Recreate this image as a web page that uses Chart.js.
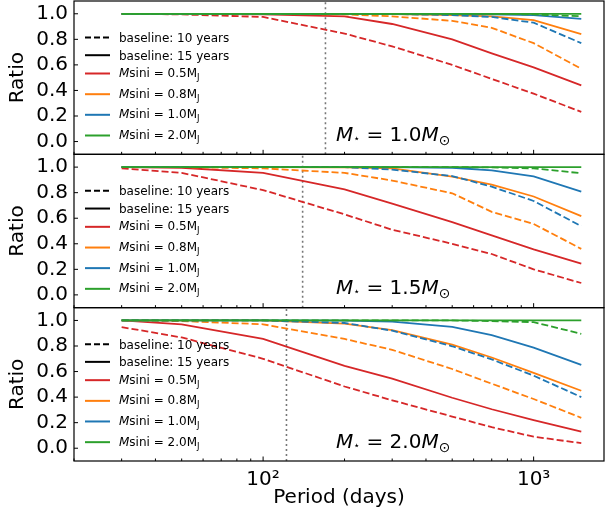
<!DOCTYPE html>
<html>
<head>
<meta charset="utf-8">
<script src="https://cdn.jsdelivr.net/npm/chart.js@4.4.0/dist/chart.umd.min.js"></script>
<style>
    body { margin: 0; background: #fff; }
    #wrap { width: 607px; height: 518px; }
</style>
</head>
<body>
<div id="wrap"><canvas id="myChart" width="607" height="518"></canvas></div>
<script>
// orbital periods (days) where the ratio was computed
const periods = [30, 50, 100, 200, 300, 500, 700, 1000, 1500];
const msiniLabels = ['0.5', '0.8', '1.0', '2.0'];
const starLabels = ['1.0', '1.5', '2.0'];
const cutoffPeriods = [170, 140, 122];
const yTickValues = [0, 0.2, 0.4, 0.6, 0.8, 1.0];
const xMinorTicks = [20, 30, 40, 50, 60, 70, 80, 90, 200, 300, 400, 500, 600, 700, 800, 900];
const xMajorTicks = [100, 1000];
const xTickLabels = ['10²', '10³'];

// M* = 1.0 Msun
const m10_15yr_05 = [1.0, 1.0, 0.995, 0.98, 0.92, 0.80, 0.69, 0.58, 0.44];
const m10_15yr_08 = [1.0, 1.0, 1.0, 1.0, 0.998, 0.99, 0.98, 0.95, 0.84];
const m10_15yr_10 = [1.0, 1.0, 1.0, 1.0, 1.0, 0.998, 0.995, 0.99, 0.96];
const m10_15yr_20 = [1.0, 1.0, 1.0, 1.0, 1.0, 1.0, 1.0, 1.0, 1.0];
const m10_10yr_05 = [1.0, 0.995, 0.975, 0.845, 0.745, 0.60, 0.49, 0.375, 0.232];
const m10_10yr_08 = [1.0, 1.0, 1.0, 0.995, 0.98, 0.945, 0.89, 0.77, 0.57];
const m10_10yr_10 = [1.0, 1.0, 1.0, 1.0, 0.998, 0.99, 0.975, 0.93, 0.77];
const m10_10yr_20 = [1.0, 1.0, 1.0, 1.0, 1.0, 1.0, 1.0, 0.995, 0.98];

// M* = 1.5 Msun
const m15_15yr_05 = [1.0, 0.995, 0.955, 0.825, 0.715, 0.57, 0.465, 0.356, 0.245];
const m15_15yr_08 = [1.0, 1.0, 1.0, 0.998, 0.99, 0.925, 0.863, 0.77, 0.617];
const m15_15yr_10 = [1.0, 1.0, 1.0, 1.0, 1.0, 0.995, 0.975, 0.928, 0.808];
const m15_15yr_20 = [1.0, 1.0, 1.0, 1.0, 1.0, 1.0, 1.0, 1.0, 1.0];
const m15_10yr_05 = [0.99, 0.955, 0.82, 0.63, 0.51, 0.40, 0.32, 0.20, 0.093];
const m15_10yr_08 = [1.0, 1.0, 0.99, 0.955, 0.895, 0.795, 0.65, 0.555, 0.36];
const m15_10yr_10 = [1.0, 1.0, 1.0, 1.0, 0.98, 0.93, 0.847, 0.735, 0.538];
const m15_10yr_20 = [1.0, 1.0, 1.0, 1.0, 1.0, 1.0, 0.998, 0.99, 0.952];

// M* = 2.0 Msun
const m20_15yr_05 = [1.0, 0.97, 0.855, 0.645, 0.545, 0.395, 0.305, 0.22, 0.13];
const m20_15yr_08 = [1.0, 1.0, 1.0, 0.975, 0.925, 0.81, 0.71, 0.59, 0.45];
const m20_15yr_10 = [1.0, 1.0, 1.0, 0.998, 0.99, 0.95, 0.885, 0.788, 0.652];
const m20_15yr_20 = [1.0, 1.0, 1.0, 1.0, 1.0, 1.0, 1.0, 1.0, 1.0];
const m20_10yr_05 = [0.948, 0.867, 0.70, 0.483, 0.375, 0.248, 0.165, 0.09, 0.04];
const m20_10yr_08 = [1.0, 0.995, 0.97, 0.855, 0.77, 0.62, 0.505, 0.385, 0.238];
const m20_10yr_10 = [1.0, 1.0, 1.0, 0.98, 0.92, 0.798, 0.695, 0.568, 0.40];
const m20_10yr_20 = [1.0, 1.0, 1.0, 1.0, 1.0, 1.0, 0.995, 0.987, 0.895];

const colors = ['#d62728', '#ff7f0e', '#1f77b4', '#2ca02c'];
const FONT = 'DejaVu Sans';

const panels = [
    { id: 'yTop', solid: [m10_15yr_05, m10_15yr_08, m10_15yr_10, m10_15yr_20],
      dashed: [m10_10yr_05, m10_10yr_08, m10_10yr_10, m10_10yr_20] },
    { id: 'yMid', solid: [m15_15yr_05, m15_15yr_08, m15_15yr_10, m15_15yr_20],
      dashed: [m15_10yr_05, m15_10yr_08, m15_10yr_10, m15_10yr_20] },
    { id: 'yBot', solid: [m20_15yr_05, m20_15yr_08, m20_15yr_10, m20_15yr_20],
      dashed: [m20_10yr_05, m20_10yr_08, m20_10yr_10, m20_10yr_20] }
];

function toPoints(vals) {
    return periods.map((p, i) => ({ x: p, y: vals[i] }));
}

// chart.js draws dataset 0 on top, so push green first
const datasets = [];
panels.forEach((panel) => {
    for (let k = colors.length - 1; k >= 0; k--) {
        datasets.push({
            data: toPoints(panel.solid[k]), yAxisID: panel.id,
            borderColor: colors[k], borderWidth: 1.8, pointRadius: 0
        });
        datasets.push({
            data: toPoints(panel.dashed[k]), yAxisID: panel.id,
            borderColor: colors[k], borderWidth: 1.8, borderDash: [7, 3], pointRadius: 0
        });
    }
});
panels.forEach((panel, p) => {
    datasets.push({
        data: [{ x: cutoffPeriods[p], y: -0.1 }, { x: cutoffPeriods[p], y: 1.1 }],
        yAxisID: panel.id, borderColor: '#777', borderWidth: 1.6,
        borderDash: [2, 3], pointRadius: 0
    });
});

// no label overflow padding, so the panels fill the whole height
function noPadding(s) {
    s.paddingTop = 0;
    s.paddingBottom = 0;
    s.paddingLeft = 0;
    s.paddingRight = 0;
}

function yScale(id) {
    return {
        type: 'linear', min: -0.1, max: 1.1, position: 'left',
        stack: 'panels', stackWeight: 1, offset: false,
        grid: { display: false, drawTicks: false },
        border: { display: false },
        afterBuildTicks: (s) => { s.ticks = yTickValues.map(v => ({ value: v })); },
        afterFit: (s) => { s.width = 74; noPadding(s); },
        ticks: { autoSkip: false, padding: 6, color: '#000', font: { family: FONT, size: 20 },
                 callback: (v) => Number(v).toFixed(1) },
        title: { display: true, text: 'Ratio', color: '#000',
                 font: { family: FONT, size: 20 }, padding: { top: 6, bottom: 0 } }
    };
}

function drawLine(ctx, x1, y1, x2, y2) {
    ctx.beginPath();
    ctx.moveTo(x1, y1);
    ctx.lineTo(x2, y2);
    ctx.stroke();
}

// write pieces one after another: [text, font, dy]
function drawRich(ctx, x, y, parts) {
    for (const part of parts) {
        ctx.font = part[1];
        ctx.fillText(part[0], x, y + (part[2] || 0));
        x += ctx.measureText(part[0]).width;
    }
}

const legendRows = [36.5, 54.2, 72.5, 93.2, 113.8, 134.5];

const panelDecor = {
    id: 'panelDecor',
    afterDraw(chart) {
        const ctx = chart.ctx;
        const xs = chart.scales.x;
        const left = chart.chartArea.left;
        const right = chart.chartArea.right;
        panels.forEach((panel, p) => {
            const ys = chart.scales[panel.id];
            const top = ys.top, bottom = ys.bottom;
            ctx.save();
            ctx.strokeStyle = '#000';
            ctx.lineWidth = 1.2;
            ctx.strokeRect(left, top, right - left, bottom - top);
            ctx.lineWidth = 1;
            yTickValues.forEach(v => {
                const py = ys.getPixelForValue(v);
                drawLine(ctx, left, py, left + 4, py);
            });
            xMinorTicks.forEach(v => {
                const px = xs.getPixelForValue(v);
                drawLine(ctx, px, bottom, px, bottom - 2.5);
            });
            xMajorTicks.forEach(v => {
                const px = xs.getPixelForValue(v);
                drawLine(ctx, px, bottom, px, bottom - 4.5);
            });

            // legend
            ctx.textBaseline = 'alphabetic';
            ctx.fillStyle = '#000';
            const hx1 = left + 11, hx2 = left + 36, tx = left + 45;
            ctx.lineWidth = 2;
            ctx.strokeStyle = '#000';
            ctx.setLineDash([6, 3]);
            drawLine(ctx, hx1, top + legendRows[0], hx2, top + legendRows[0]);
            ctx.setLineDash([]);
            drawLine(ctx, hx1, top + legendRows[1], hx2, top + legendRows[1]);
            ctx.font = '12px "' + FONT + '"';
            ctx.fillText('baseline: 10 years', tx, top + legendRows[0] + 4.5);
            ctx.fillText('baseline: 15 years', tx, top + legendRows[1] + 4.5);
            msiniLabels.forEach((m, k) => {
                const ry = top + legendRows[k + 2];
                ctx.strokeStyle = colors[k];
                drawLine(ctx, hx1, ry, hx2, ry);
                drawRich(ctx, tx, ry + 3.5, [
                    ['M', 'italic 12px "' + FONT + '"'],
                    ['sini = ' + m + 'M', '12px "' + FONT + '"'],
                    ['J', '8.5px "' + FONT + '"', 3]
                ]);
            });

            // stellar mass label
            const ax = left + 262, ay = top + 140;
            drawRich(ctx, ax, ay, [
                ['M', 'italic 20px "' + FONT + '"'],
                ['\u22c6', '11px "' + FONT + '"', 1],
                [' = ' + starLabels[p], '20px "' + FONT + '"'],
                ['M', 'italic 20px "' + FONT + '"'],
                ['\u2299', '14px "' + FONT + '"', 4]
            ]);
            ctx.restore();
        });
    }
};

const ctx = document.getElementById('myChart').getContext('2d');
const myChart = new Chart(ctx, {
    type: 'line',
    data: { datasets: datasets },
    options: {
        responsive: false,
        animation: false,
        devicePixelRatio: 1,
        layout: { padding: { top: 1, right: 3, left: 0, bottom: 0 } },
        plugins: { legend: { display: false }, tooltip: { enabled: false } },
        elements: { line: { tension: 0 } },
        scales: {
            x: {
                type: 'logarithmic', min: 20, max: 1820, position: 'bottom',
                grid: { display: false, drawTicks: false },
                border: { display: false },
                afterBuildTicks: (s) => {
                    s.ticks = xMajorTicks.map(v => ({ value: v }));
                },
                afterFit: (s) => { s.height = 57; noPadding(s); },
                ticks: {
                    autoSkip: false, maxRotation: 0, padding: 7, color: '#000',
                    font: { family: FONT, size: 20 },
                    callback: (v) => {
                        const i = xMajorTicks.indexOf(v);
                        return i >= 0 ? xTickLabels[i] : '';
                    }
                },
                title: { display: true, text: 'Period (days)', color: '#000',
                         font: { family: FONT, size: 20 }, padding: { top: 0, bottom: 8 } }
            },
            yBot: yScale('yBot'),
            yMid: yScale('yMid'),
            yTop: yScale('yTop')
        }
    },
    plugins: [panelDecor]
});
</script>
</body>
</html>
